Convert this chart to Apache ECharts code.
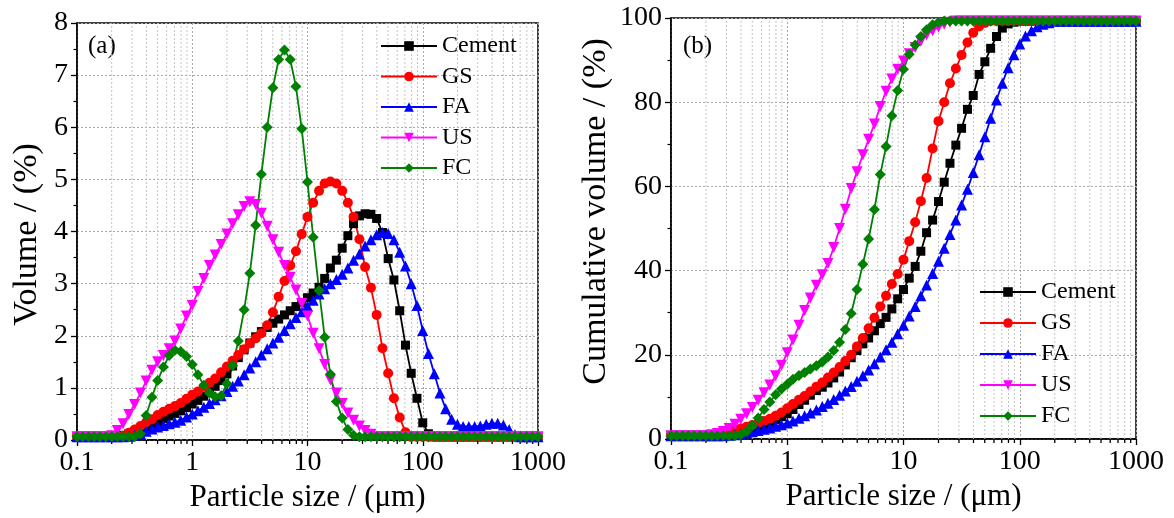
<!DOCTYPE html>
<html>
<head>
<meta charset="UTF-8">
<title>Particle size distribution</title>
<script src="https://cdn.jsdelivr.net/npm/echarts/dist/echarts.min.js"></script>
<style>
  html, body { margin: 0; padding: 0; background: #fff; }
  #chart { width: 1174px; height: 518px; }
</style>
</head>
<body>
<div id="chart"></div>
<script>
// particle size classes (um), 20 per decade
var sizes = [0.1,0.112,0.126,0.141,0.158,0.178,0.2,0.224,0.251,0.282,
  0.316,0.355,0.398,0.447,0.501,0.562,0.631,0.708,0.794,0.891,
  1,1.12,1.26,1.41,1.58,1.78,2,2.24,2.51,2.82,
  3.16,3.55,3.98,4.47,5.01,5.62,6.31,7.08,7.94,8.91,
  10,11.2,12.6,14.1,15.8,17.8,20,22.4,25.1,28.2,
  31.6,35.5,39.8,44.7,50.1,56.2,63.1,70.8,79.4,89.1,
  100,112,126,141,158,178,200,224,251,282,
  316,355,398,447,501,562,631,708,794,891,1000];
var minorTicks = [0.2,0.3,0.4,0.5,0.6,0.7,0.8,0.9, 2,3,4,5,6,7,8,9,
  20,30,40,50,60,70,80,90, 200,300,400,500,600,700,800,900];
var names = ['Cement', 'GS', 'FA', 'US', 'FC'];

// (a) Volume / (%)
var volCement = [0.06,0.06,0.06,0.06,0.06,0.06,0.06,0.07,0.09,0.12,
  0.16,0.21,0.26,0.31,0.36,0.41,0.46,0.51,0.56,0.62,
  0.69,0.76,0.84,0.93,1.03,1.14,1.27,1.42,1.58,1.73,
  1.86,1.98,2.08,2.16,2.24,2.32,2.4,2.48,2.56,2.64,
  2.73,2.82,2.93,3.1,3.3,3.45,3.68,3.92,4.15,4.3,
  4.34,4.33,4.25,3.98,3.48,3.07,2.48,1.82,1.28,0.8,
  0.33,0.12,0.06,0.06,0.06,0.06,0.06,0.06,0.06,0.06,
  0.06,0.06,0.06,0.06,0.06,0.06,0.06,0.06,0.06,0.06,0.06];
var volGS = [0.06,0.06,0.06,0.06,0.06,0.06,0.06,0.06,0.08,0.14,
  0.2,0.27,0.34,0.4,0.48,0.54,0.6,0.65,0.71,0.79,
  0.87,0.93,1.02,1.1,1.18,1.3,1.41,1.52,1.63,1.74,
  1.85,1.95,2.05,2.2,2.45,2.75,3.05,3.35,3.62,3.95,
  4.28,4.55,4.78,4.92,4.96,4.92,4.78,4.55,4.28,3.85,
  3.32,2.92,2.4,1.76,1.28,0.8,0.43,0.15,0.06,0.06,
  0.06,0.06,0.06,0.06,0.06,0.06,0.06,0.06,0.06,0.06,
  0.06,0.06,0.06,0.06,0.06,0.06,0.06,0.06,0.06,0.06,0.06];
var volFA = [0.06,0.06,0.06,0.06,0.06,0.06,0.06,0.06,0.06,0.07,
  0.09,0.12,0.17,0.21,0.25,0.28,0.31,0.34,0.38,0.44,
  0.5,0.56,0.63,0.7,0.77,0.85,0.93,1.03,1.13,1.25,
  1.38,1.5,1.63,1.75,1.86,1.97,2.1,2.23,2.35,2.46,
  2.57,2.68,2.8,2.9,3.0,3.08,3.18,3.3,3.45,3.57,
  3.72,3.84,3.94,3.98,3.96,3.84,3.6,3.34,3.0,2.58,
  2.1,1.66,1.27,0.9,0.6,0.4,0.3,0.26,0.26,0.26,
  0.27,0.3,0.32,0.32,0.29,0.2,0.1,0.06,0.06,0.06,0.06];
var volUS = [0.06,0.06,0.06,0.06,0.06,0.06,0.08,0.18,0.31,0.49,
  0.68,0.9,1.13,1.34,1.5,1.62,1.75,1.9,2.13,2.38,
  2.58,2.85,3.1,3.35,3.55,3.75,3.95,4.15,4.32,4.48,
  4.57,4.52,4.35,4.1,3.84,3.6,3.35,3.12,2.88,2.62,
  2.38,2.05,1.75,1.45,1.15,0.9,0.7,0.52,0.38,0.27,
  0.18,0.11,0.06,0.06,0.06,0.06,0.06,0.06,0.06,0.06,
  0.06,0.06,0.06,0.06,0.06,0.06,0.06,0.06,0.06,0.06,
  0.06,0.06,0.06,0.06,0.06,0.06,0.06,0.06,0.06,0.06,0.06];
var volFC = [0.06,0.06,0.06,0.06,0.06,0.06,0.06,0.06,0.06,0.06,
  0.06,0.12,0.47,0.82,1.14,1.4,1.62,1.72,1.7,1.6,
  1.45,1.25,1.05,0.9,0.83,0.85,1.08,1.43,1.9,2.5,
  3.2,4.12,5.1,6.0,6.76,7.3,7.48,7.3,6.78,5.97,
  4.95,3.89,2.87,1.97,1.26,0.74,0.42,0.2,0.09,0.06,
  0.06,0.06,0.06,0.06,0.06,0.06,0.06,0.06,0.06,0.06,
  0.06,0.06,0.06,0.06,0.06,0.06,0.06,0.06,0.06,0.06,
  0.06,0.06,0.06,0.06,0.06,0.06,0.06,0.06,0.06,0.06,0.06];

// (b) Cumulative volume / (%)
var cumCement = [0.8,0.8,0.8,0.8,0.8,0.8,0.8,0.8,0.8,1.0,
  1.2,1.5,1.8,2.2,2.6,3.0,3.5,4.0,4.6,5.3,
  6.0,7.0,8.2,9.2,10.4,11.5,12.3,13.3,14.5,15.9,
  17.6,19.3,21.0,22.6,24.0,25.7,27.4,28.9,30.9,33.3,
  35.5,38.2,41.0,44.6,49.0,52.0,56.4,61.0,65.5,69.8,
  73.8,78.3,81.6,86.6,89.6,92.8,95.6,97.6,98.6,99.0,
  99.3,99.3,99.3,99.3,99.3,99.3,99.3,99.3,99.3,99.3,
  99.3,99.3,99.3,99.3,99.3,99.3,99.3,99.3,99.3,99.3,99.3];
var cumGS = [0.8,0.8,0.8,0.8,0.8,0.8,0.8,0.8,0.9,1.2,
  1.6,2.0,2.5,2.9,3.3,3.8,4.3,4.8,5.5,6.3,
  7.3,8.3,9.3,10.2,11.3,12.4,13.4,14.6,15.8,17.1,
  18.5,20.0,22.0,24.0,26.3,28.8,31.5,34.0,36.8,39.2,
  42.6,47.0,51.5,56.5,62.0,69.0,75.5,80.0,84.5,88.0,
  91.2,94.2,96.5,98.0,98.8,99.3,99.3,99.3,99.3,99.3,
  99.3,99.3,99.3,99.3,99.3,99.3,99.3,99.3,99.3,99.3,
  99.3,99.3,99.3,99.3,99.3,99.3,99.3,99.3,99.3,99.3,99.3];
var cumFA = [0.8,0.8,0.8,0.8,0.8,0.8,0.8,0.8,0.8,0.8,
  0.9,1.0,1.2,1.4,1.7,2.0,2.3,2.6,3.0,3.4,
  3.8,4.3,4.9,5.5,6.2,6.9,7.7,8.5,9.4,10.4,
  11.4,12.5,13.7,15.0,16.4,17.9,19.5,21.2,23.0,25.0,
  27.0,29.2,31.5,34.0,36.6,39.3,42.2,45.3,48.6,52.0,
  55.6,59.3,63.3,67.5,71.8,76.2,80.5,84.5,88.2,91.3,
  93.8,95.7,97.0,97.9,98.5,98.9,99.2,99.2,99.2,99.2,
  99.2,99.2,99.2,99.2,99.2,99.2,99.2,99.2,99.2,99.2,99.2];
var cumUS = [0.8,0.8,0.8,0.8,0.8,0.8,0.8,1.0,1.3,1.8,
  2.5,3.5,4.7,6.0,7.5,9.2,11.0,12.8,15.0,17.5,
  20.5,23.5,27.0,30.5,33.5,36.5,39.0,41.7,45.5,50.0,
  54.6,59.5,63.5,67.5,71.2,74.8,79.0,82.6,85.5,87.8,
  89.8,91.5,93.0,94.5,96.0,97.0,97.8,98.5,99.0,99.3,
  99.3,99.3,99.3,99.3,99.3,99.3,99.3,99.3,99.3,99.3,
  99.3,99.3,99.3,99.3,99.3,99.3,99.3,99.3,99.3,99.3,
  99.3,99.3,99.3,99.3,99.3,99.3,99.3,99.3,99.3,99.3,99.3];
var cumFC = [0.8,0.8,0.8,0.8,0.8,0.8,0.8,0.8,0.8,0.8,
  0.8,0.8,1.0,1.8,3.2,5.0,7.0,8.8,10.5,11.9,
  13.0,14.2,15.1,15.8,16.6,17.4,18.3,19.5,21.0,23.0,
  26.0,29.8,35.5,41.5,47.5,54.5,62.8,69.5,76.8,82.8,
  87.8,91.4,93.6,95.6,97.2,98.4,99.0,99.3,99.3,99.3,
  99.3,99.3,99.3,99.3,99.3,99.3,99.3,99.3,99.3,99.3,
  99.3,99.3,99.3,99.3,99.3,99.3,99.3,99.3,99.3,99.3,
  99.3,99.3,99.3,99.3,99.3,99.3,99.3,99.3,99.3,99.3,99.3];

var volData = [volCement, volGS, volFA, volUS, volFC];
var cumData = [cumCement, cumGS, cumFA, cumUS, cumFC];

var FONT = 'Liberation Serif';
var colors = ['#000000', '#ff0000', '#0000ff', '#ff00ff', '#008000'];
var symbols = ['rect', 'circle', 'triangle', 'triangle', 'diamond'];
var symbolSizes = [9, 10, 11, 11, 11];
var rotates = [0, 0, 0, 180, 0];

function pairs(ys) {
  return sizes.map(function (x, i) { return [x, ys[i]]; });
}

function makeSeries(list, axisIdx) {
  return list.map(function (ys, i) {
    return {
      name: names[i],
      type: 'line',
      xAxisIndex: axisIdx,
      yAxisIndex: axisIdx,
      data: pairs(ys),
      color: colors[i],
      symbol: symbols[i],
      symbolSize: symbolSizes[i],
      symbolRotate: rotates[i],
      showAllSymbol: true,
      lineStyle: { width: 1.8, color: colors[i] },
      itemStyle: { color: colors[i] },
      z: 3
    };
  });
}

// minor log ticks + minor grid lines, placed through the axis scale
function minorSeries(axisIdx, yMax) {
  return {
    type: 'custom',
    xAxisIndex: axisIdx,
    yAxisIndex: axisIdx,
    silent: true,
    clip: false,
    z: 1,
    data: minorTicks.map(function (v) { return [v, yMax]; }),
    renderItem: function (params, api) {
      var v = api.value(0);
      var top = api.coord([v, api.value(1)]);
      var bot = api.coord([v, 0]);
      return {
        type: 'group',
        children: [
          { type: 'line', shape: { x1: bot[0], y1: bot[1], x2: top[0], y2: top[1] },
            style: { stroke: '#c4c4c4', lineWidth: 1, lineDash: [2, 2] } },
          { type: 'line', shape: { x1: bot[0], y1: bot[1], x2: bot[0], y2: bot[1] + 4 },
            style: { stroke: '#000', lineWidth: 1.3 } }
        ]
      };
    }
  };
}

function xAxisCfg(idx) {
  return {
    type: 'log', logBase: 10, min: 0.1, max: 1000, gridIndex: idx,
    name: 'Particle size / (\u03bcm)', nameLocation: 'middle', nameGap: 39,
    nameTextStyle: { fontFamily: FONT, fontSize: 31, color: '#000' },
    axisLine: { lineStyle: { color: '#000', width: 1.5 } },
    axisTick: { show: true, length: 6, lineStyle: { color: '#000', width: 1.3 } },
    axisLabel: { fontFamily: FONT, fontSize: 28, color: '#000', margin: 9,
      formatter: function (v) { return String(+(+v).toPrecision(3)); } },
    splitLine: { show: true, lineStyle: { color: '#a8a8a8', width: 1, type: [2, 2] } }
  };
}

function yAxisCfg(idx, max, interval, title, gap, pad) {
  return {
    type: 'value', min: 0, max: max, interval: interval, gridIndex: idx,
    name: title, nameLocation: 'middle', nameGap: gap,
    nameTextStyle: { fontFamily: FONT, fontSize: 34, color: '#000', padding: pad },
    axisLine: { show: true, lineStyle: { color: '#000', width: 1.5 } },
    axisTick: { show: true, length: 6, lineStyle: { color: '#000', width: 1.3 } },
    minorTick: { show: true, splitNumber: 2, length: 3.5, lineStyle: { color: '#000', width: 1.2 } },
    axisLabel: { fontFamily: FONT, fontSize: 28, color: '#000', margin: 9 },
    splitLine: { show: true, lineStyle: { color: '#a8a8a8', width: 1, type: [2, 2] } }
  };
}

function legendCfg(left, top, gap) {
  return {
    data: names, orient: 'vertical', left: left, top: top, padding: 0,
    itemWidth: 56, itemHeight: 12, itemGap: gap,
    textStyle: { fontFamily: FONT, fontSize: 24, color: '#000', lineHeight: 23 },
    selectedMode: false
  };
}

var chart = echarts.init(document.getElementById('chart'));
chart.setOption({
  animation: false,
  backgroundColor: '#fff',
  grid: [
    { left: 77, top: 23, width: 461, height: 417, show: true, borderColor: '#000', borderWidth: 1.5 },
    { left: 671, top: 18, width: 465, height: 421, show: true, borderColor: '#000', borderWidth: 1.5 }
  ],
  xAxis: [xAxisCfg(0), xAxisCfg(1)],
  yAxis: [
    yAxisCfg(0, 8, 1, 'Volume / (%)', 33, [0, 6, 0, 0]),
    yAxisCfg(1, 100, 20, 'Cumulative volume / (%)', 58, [0, 0, 0, 34])
  ],
  legend: [legendCfg(380, 34, 6.5), legendCfg(979, 280, 7)],
  graphic: [
    { type: 'text', left: 88, top: 34, style: { text: '(a)', font: '25px "Liberation Serif"', fill: '#000' } },
    { type: 'text', left: 683, top: 34, style: { text: '(b)', font: '25px "Liberation Serif"', fill: '#000' } }
  ],
  series: [minorSeries(0, 8), minorSeries(1, 100)]
    .concat(makeSeries(volData, 0))
    .concat(makeSeries(cumData, 1))
});
</script>
</body>
</html>
